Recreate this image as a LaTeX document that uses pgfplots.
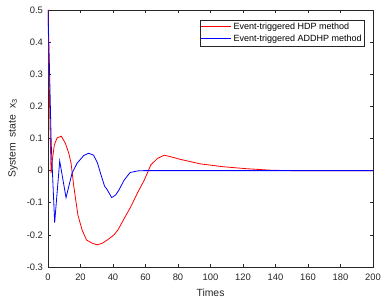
\documentclass[border=0pt]{standalone}
\usepackage{pgfplots}
\pgfplotsset{compat=1.18}
\usepackage{fontspec}
\setmainfont{Liberation Sans}
\definecolor{axgray}{rgb}{0.15,0.15,0.15}
\begin{document}
\begin{tikzpicture}
\begin{axis}[
  name=ax,
  scale only axis,
  width=325pt, height=257pt,
  xmin=0, xmax=200, ymin=-0.3, ymax=0.5,
  xtick={0,20,...,200},
  ytick={-0.3,-0.2,-0.1,0,0.1,0.2,0.3,0.4,0.5},
  yticklabels={-0.3,-0.2,-0.1,0,0.1,0.2,0.3,0.4,0.5},
  xticklabels={0,20,40,60,80,100,120,140,160,180,200},
  tick align=inside,
  major tick length=3pt,
  axis line style={axgray, line width=0.5pt},
  every tick/.style={axgray, line width=0.5pt},
  tick label style={font=\fontsize{9.4}{11}\selectfont, text=axgray},
  xticklabel style={anchor=north, yshift=-3.5pt},
  yticklabel style={anchor=east, xshift=-1.5pt},
  xlabel={Times},
  ylabel={System\ \ state\ \ x\textsubscript{3}},
  label style={font=\fontsize{10.4}{12}\selectfont, text=axgray},
  xlabel style={at={(axis description cs:0.5,-0.0992)}, anchor=center},
  ylabel style={at={(axis description cs:-0.1077,0.5)}, anchor=center},
  legend style={at={(axis description cs:0.975,0.963)}, anchor=north east,
    draw=axgray, line width=0.5pt, font=\fontsize{9}{11}\selectfont,
    inner sep=1pt, row sep=0pt, cells={anchor=west}},
  legend image code/.code={\draw[#1] (0pt,0pt) -- (30pt,0pt);},
]
\addplot[red, line width=0.8pt] coordinates {
(0,0.5) (1,0.2) (1.9,-0.008) (2.8,0.038) (3.9,0.08) (5.6,0.102) (8.2,0.107)
(10.7,0.085) (12.8,0.054) (14.2,0.023) (15.9,-0.05) (18.4,-0.138) (21,-0.185)
(23.7,-0.216) (27.2,-0.226) (30.3,-0.231) (33.4,-0.226) (36.5,-0.216) (40.6,-0.2)
(43,-0.185) (46.8,-0.15) (51,-0.112) (55,-0.07) (59.2,-0.03) (63.3,0.018)
(67.4,0.038) (71.5,0.048) (75.7,0.043) (81.4,0.035) (93.7,0.021) (108,0.012)
(122,0.006) (138,0.001) (150,0) (200,0)
};
\addlegendentry{Event-triggered HDP method}
\addplot[blue, line width=0.8pt] coordinates {
(0,0.5) (1,0.3) (2,0.08) (4.1,-0.162) (7.2,0.03) (11.1,-0.084) (14.8,-0.008) (17.9,0.023)
(22,0.047) (25,0.054) (28.1,0.048) (30.5,0.023) (32.3,-0.008) (34.8,-0.048)
(36.5,-0.06) (39.2,-0.084) (41.6,-0.076) (43.7,-0.06) (46.8,-0.03) (50.5,-0.006)
(55,-0.001) (59.2,0) (200,0)
};
\addlegendentry{Event-triggered ADDHP method}
\end{axis}
\path ([shift={(-48pt,-33pt)}]ax.south west) rectangle ([shift={(16pt,10pt)}]ax.north east);
\end{tikzpicture}
\end{document}
